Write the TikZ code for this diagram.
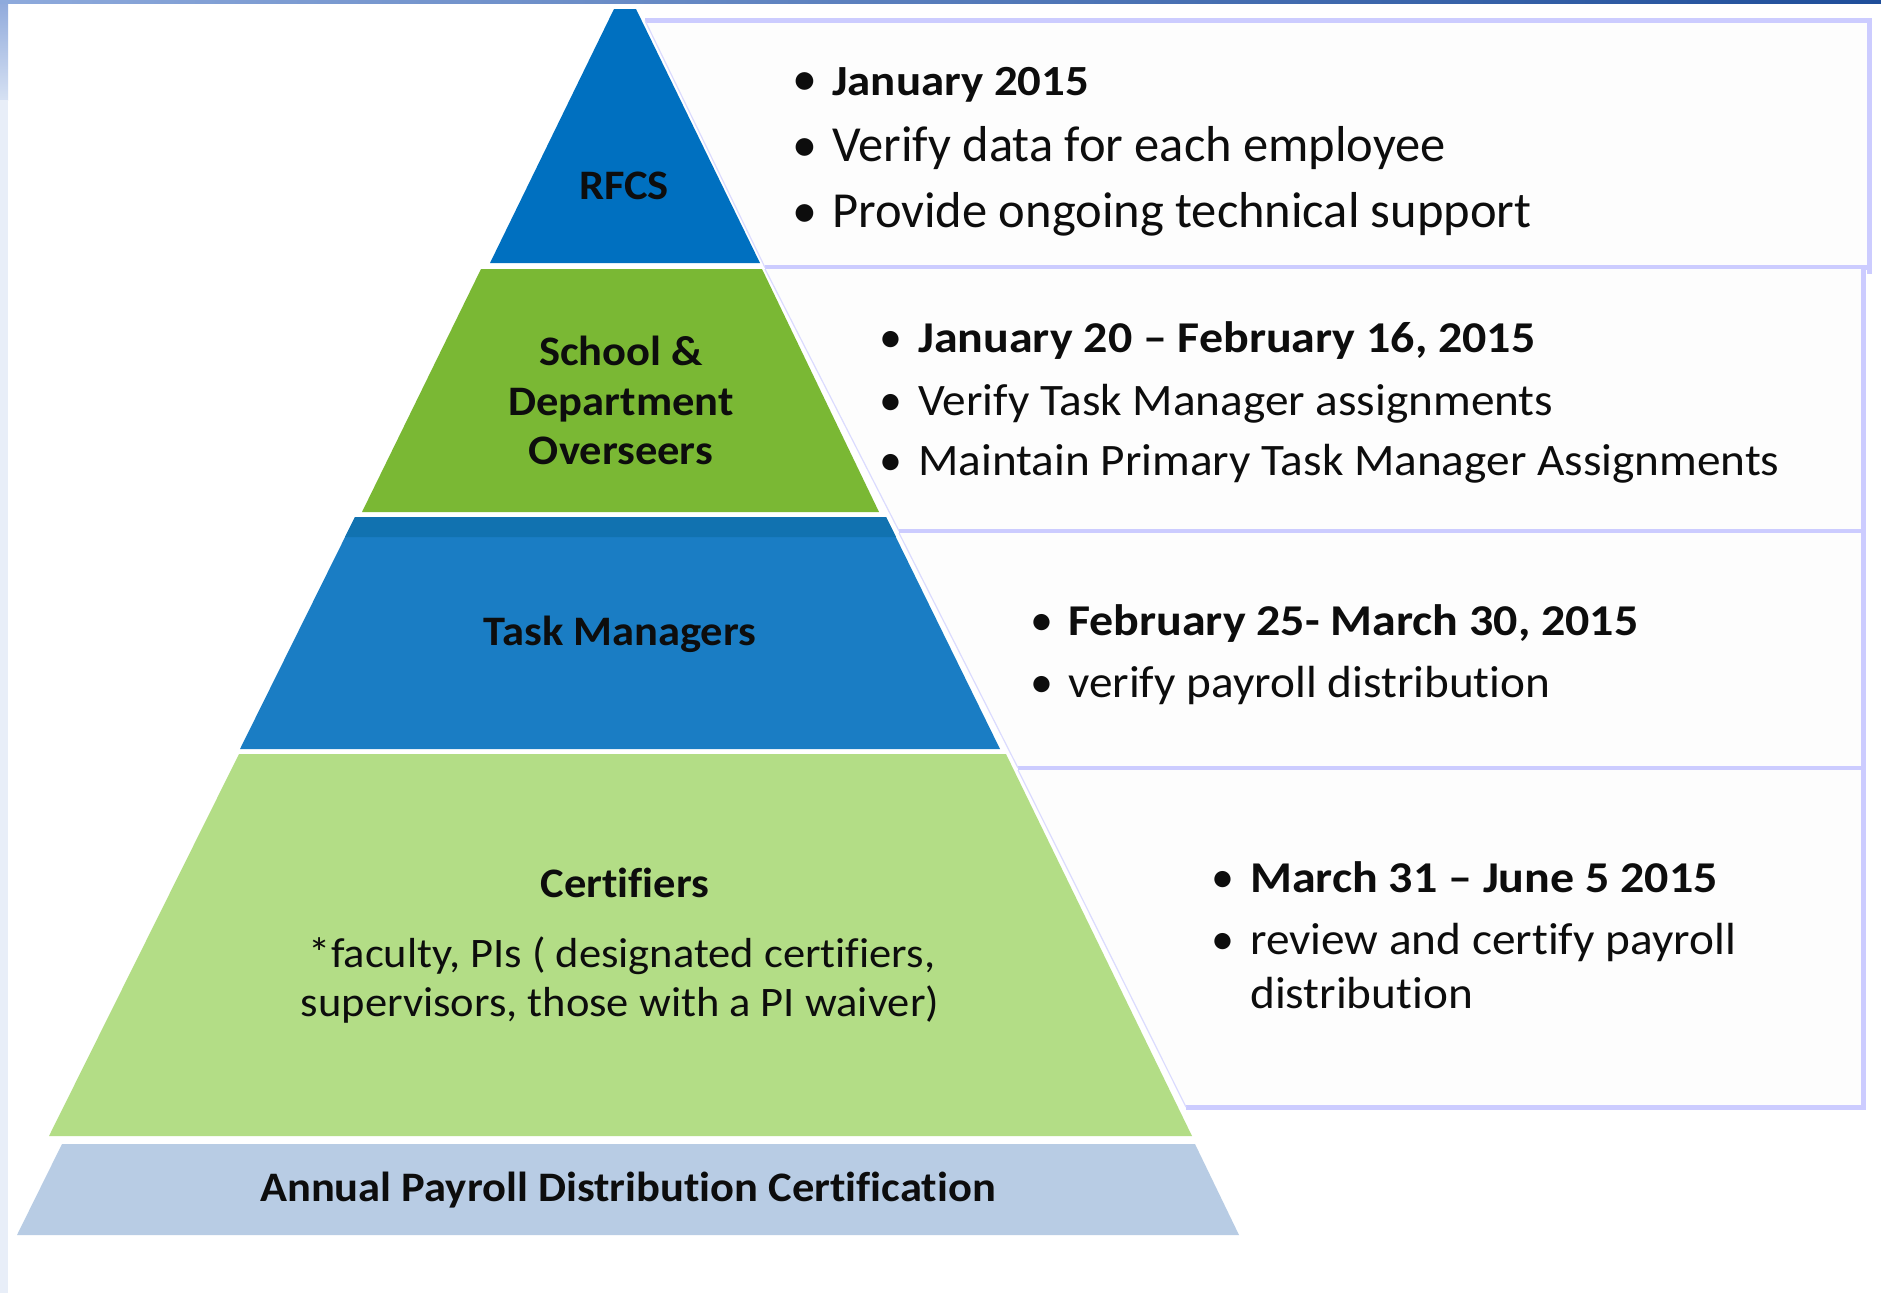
\documentclass[tikz,border=0pt]{standalone}
\usepackage{fontspec}
\defaultfontfeatures{Ligatures={NoCommon}}
\setmainfont{Carlito}
\newfontfamily\fA{Carlito}[FakeStretch=1.09]
\newfontfamily\fB{Carlito}[FakeStretch=1.05]
\newfontfamily\fC{Carlito}[FakeStretch=1.06]
\definecolor{rfcs}{RGB}{0,112,192}
\definecolor{school}{RGB}{122,184,52}
\definecolor{task}{RGB}{26,125,196}
\definecolor{taskdark}{RGB}{17,114,176}
\definecolor{cert}{RGB}{179,221,134}
\definecolor{basec}{RGB}{184,204,228}
\definecolor{lav}{RGB}{204,204,255}
\definecolor{boxbg}{RGB}{253,253,253}
\definecolor{barL}{RGB}{142,170,220}
\definecolor{barR}{RGB}{31,78,154}
\definecolor{stripT}{RGB}{143,169,219}
\definecolor{stripM}{RGB}{214,225,243}
\definecolor{stripB}{RGB}{232,238,248}
\definecolor{ink}{RGB}{13,13,13}
\tikzset{
  boxfill/.style={fill=boxbg},
  boxline/.style={draw=lav, line width=5pt, line join=miter},
  boxleft/.style={draw=lav!70, line width=1.2pt},
  hdA/.style={anchor=base west, inner sep=0pt, text=ink, font=\fontsize{43}{50}\fA\bfseries},
  rgA/.style={anchor=base west, inner sep=0pt, text=ink, font=\fontsize{50.5}{58}\selectfont},
  hdB/.style={anchor=base west, inner sep=0pt, text=ink, font=\fontsize{44}{50}\fA\bfseries},
  rgB/.style={anchor=base west, inner sep=0pt, text=ink, font=\fontsize{45}{52}\fB},
  bulA/.style={anchor=base, inner sep=0pt, text=ink, font=\fontsize{50}{58}\selectfont},
  bulB/.style={anchor=base, inner sep=0pt, text=ink, font=\fontsize{46}{52}\selectfont},
  lbl/.style={anchor=base, inner sep=0pt, text=ink, font=\fontsize{42}{50}\fC\bfseries},
  sub/.style={anchor=base, inner sep=0pt, text=ink, font=\fontsize{42}{50}\fC}
}
\begin{document}
\begin{tikzpicture}[x=1pt,y=-1pt]
\useasboundingbox (0,0) rectangle (1881,1293);
\fill[white] (0,0) rectangle (1881,1293);
% frame decorations
\shade[top color=stripT, bottom color=stripM] (0,0) rectangle (8,100);
\fill[stripB] (0,100) rectangle (8,1293);
\shade[left color=barL, right color=barR] (0,0) rectangle (1881,3.5);

% right-hand boxes
\fill[boxfill] (645,20.5) -- (1869,20.5) -- (1869,267.5) -- (765,267.5) -- cycle;
\draw[boxline] (645,20.5) -- (1869,20.5) -- (1869,274);
\draw[boxline] (1869,267.5) -- (765,267.5);
\draw[boxleft] (765,267.5) -- (645,20.5);

\fill[boxfill] (765,269) -- (1863,269) -- (1863,531) -- (899,531) -- cycle;
\draw[boxline] (1863,269) -- (1863,531) -- (899,531);
\draw[boxleft] (899,531) -- (765,269);

\fill[boxfill] (899,533) -- (1863,533) -- (1863,768) -- (1018,768) -- cycle;
\draw[boxline] (1863,531) -- (1863,768) -- (1018,768);
\draw[boxleft] (1018,768) -- (899,533);

\fill[boxfill] (1018,770) -- (1863,770) -- (1863,1107) -- (1186,1107) -- cycle;
\draw[boxline] (1863,768) -- (1863,1107) -- (1186,1107);
\draw[boxleft] (1186,1107) -- (1018,770);

% pyramid layers
\fill[rfcs] (614,9) -- (636,9) -- (760,263) -- (490,263) -- cycle;
\fill[school] (481,269) -- (762,269) -- (879,512) -- (362,512) -- cycle;
\fill[task] (355,517) -- (886,517) -- (1000,749) -- (240,749) -- cycle;
\fill[taskdark] (355,517) -- (886,517) -- (896,537) -- (345,537) -- cycle;
\fill[cert] (239,754) -- (1006,754) -- (1192,1136) -- (49,1136) -- cycle;
\fill[basec] (62,1144) -- (1195,1144) -- (1239,1235) -- (17,1235) -- cycle;

% pyramid labels
\node[lbl] (rfcs) at (624,199) {RFCS};
\node[lbl] (sch1) at (621,365) {School \&};
\node[lbl] (sch2) at (621,415) {Department};
\node[lbl] (sch3) at (621,464) {Overseers};
\node[lbl] (tm) at (620,645) {Task Managers};
\node[lbl] (cer) at (625,897) {Certifiers};
\node[sub] (cer1) at (622,967) {*faculty, PIs ( designated certifiers,};
\node[sub] (cer2) at (620,1016) {supervisors, those with a PI waiver)};
\node[lbl] (apdc) at (628,1201) {Annual Payroll Distribution Certification};

% box 1 text
\node[bulA] (b1a) at (805,95) {•};
\node[bulA] (b1b) at (805,161) {•};
\node[bulA] (b1c) at (805,227) {•};
\node[hdA] (t1a) at (832,95) {January 2015};
\node[rgA] (t1b) at (832,161) {Verify data for each employee};
\node[rgA] (t1c) at (832,227) {Provide ongoing technical support};

% box 2 text
\node[bulB] (b2a) at (891,352) {•};
\node[bulB] (b2b) at (891,415) {•};
\node[bulB] (b2c) at (891,475) {•};
\node[hdB] (t2a) at (918,352) {January 20 – February 16, 2015};
\node[rgB] (t2b) at (918,415) {Verify Task Manager assignments};
\node[rgB] (t2c) at (918,475) {Maintain Primary Task Manager Assignments};

% box 3 text
\node[bulB] (b3a) at (1042,635) {•};
\node[bulB] (b3b) at (1042,697) {•};
\node[hdB] (t3a) at (1068,635) {February 25- March 30, 2015};
\node[rgB] (t3b) at (1068,697) {verify payroll distribution};

% box 4 text
\node[bulB] (b4a) at (1223,892) {•};
\node[bulB] (b4b) at (1223,954) {•};
\node[hdB] (t4a) at (1250,892) {March 31 – June 5 2015};
\node[rgB] (t4b) at (1250,954) {review and certify payroll};
\node[rgB] (t4c) at (1250,1008) {distribution};
\end{tikzpicture}
\end{document}
